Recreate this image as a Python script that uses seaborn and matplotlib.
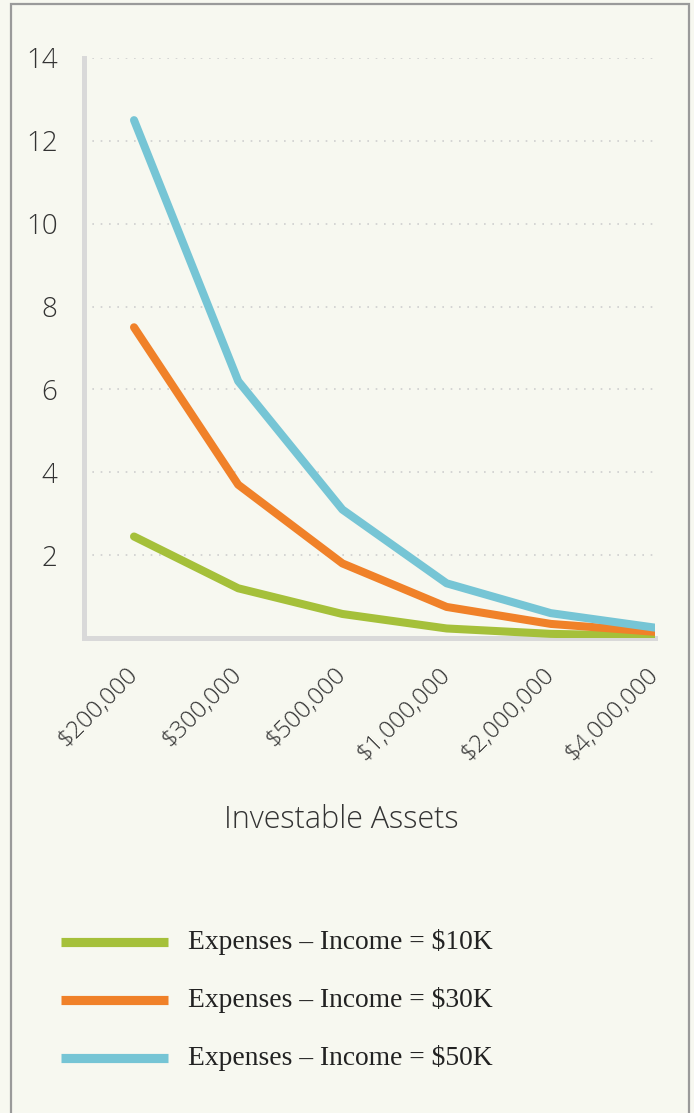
import matplotlib
matplotlib.use("Agg")
import matplotlib.pyplot as plt
from matplotlib.patches import Rectangle
import seaborn as sns
import pandas as pd

assets = ["$200,000", "$300,000", "$500,000", "$1,000,000", "$2,000,000", "$4,000,000"]
series_names = ["Expenses – Income = $10K", "Expenses – Income = $30K", "Expenses – Income = $50K"]
vals_10k = [2.45, 1.2, 0.58, 0.23, 0.1, 0.05]
vals_30k = [7.5, 3.7, 1.8, 0.75, 0.34, 0.15]
vals_50k = [12.5, 6.2, 3.1, 1.32, 0.6, 0.25]
yticks = [2, 4, 6, 8, 10, 12, 14]
colors = ["#a5c03a", "#f08129", "#76c5d5"]

rows = []
for name, vals in zip(series_names, [vals_10k, vals_30k, vals_50k]):
    for i, (a, v) in enumerate(zip(assets, vals)):
        rows.append({"pos": i, "asset": a, "value": v, "series": name})
df = pd.DataFrame(rows)

sns.set_theme(style="white")
bg = "#f7f8f0"
plt.rcParams["font.family"] = ["Open Sans", "DejaVu Sans"]

fig = plt.figure(figsize=(6.94, 11.13), dpi=100, facecolor=bg)
W, H = 694, 1113
ax = fig.add_axes([84 / W, 1 - 638 / H, (655 - 84) / W, (638 - 58) / H])
ax.set_facecolor(bg)

sns.lineplot(data=df, x="pos", y="value", hue="series", palette=colors,
             linewidth=5.8, ax=ax, legend=False, sort=False,
             solid_capstyle="round", solid_joinstyle="round")
for ln in ax.get_lines():
    ln.set_solid_capstyle("round")
    ln.set_zorder(3)

ax.set_xlim(-0.48, 5.0)
ax.set_ylim(0, 14)
ax.set_yticks(yticks)
ax.set_yticklabels([str(t) for t in yticks], fontsize=20, color="#333333", fontweight="light")
ax.set_xticks(range(len(assets)))
ax.set_xticklabels(assets, fontsize=17.5, color="#333333", rotation=45, ha="right",
                   va="center", rotation_mode="anchor", fontweight="light")
ax.tick_params(axis="both", length=0)
ax.tick_params(axis="y", pad=19)
ax.tick_params(axis="x", pad=24)
ax.set_xlabel("")
ax.set_ylabel("")

ax.grid(axis="y", linestyle=(0, (1, 4)), color="#cfcfcf", linewidth=1.2)
ax.grid(axis="x", visible=False)
ax.set_axisbelow(True)
for s in ["top", "right"]:
    ax.spines[s].set_visible(False)
for s in ["left", "bottom"]:
    ax.spines[s].set_color("#d9d9d9")
    ax.spines[s].set_linewidth(3.6)

fig.text(341 / W, 1 - 820 / H, "Investable Assets", ha="center", va="center",
         fontsize=22, color="#333333", fontweight="light")

# legend (drawn manually in figure coords)
leg_y = [942, 1000, 1058]
for c, name, y in zip(colors, series_names, leg_y):
    fig.add_artist(plt.Line2D([61 / W, 168 / W], [1 - y / H, 1 - y / H],
                              color=c, linewidth=6.6, solid_capstyle="butt",
                              transform=fig.transFigure))
    fig.text(188 / W, 1 - y / H, name, ha="left", va="center", fontsize=19.8,
             family=["Liberation Serif", "DejaVu Serif"], color="#222222")

# outer frame
fig.add_artist(Rectangle((11 / W, -0.05), (689 - 11) / W, 1.05 - 4 / H,
                         transform=fig.transFigure, fill=False,
                         edgecolor="#9a9a9a", linewidth=1.6, clip_on=False))

fig.savefig("out.png", dpi=100, facecolor=bg)
